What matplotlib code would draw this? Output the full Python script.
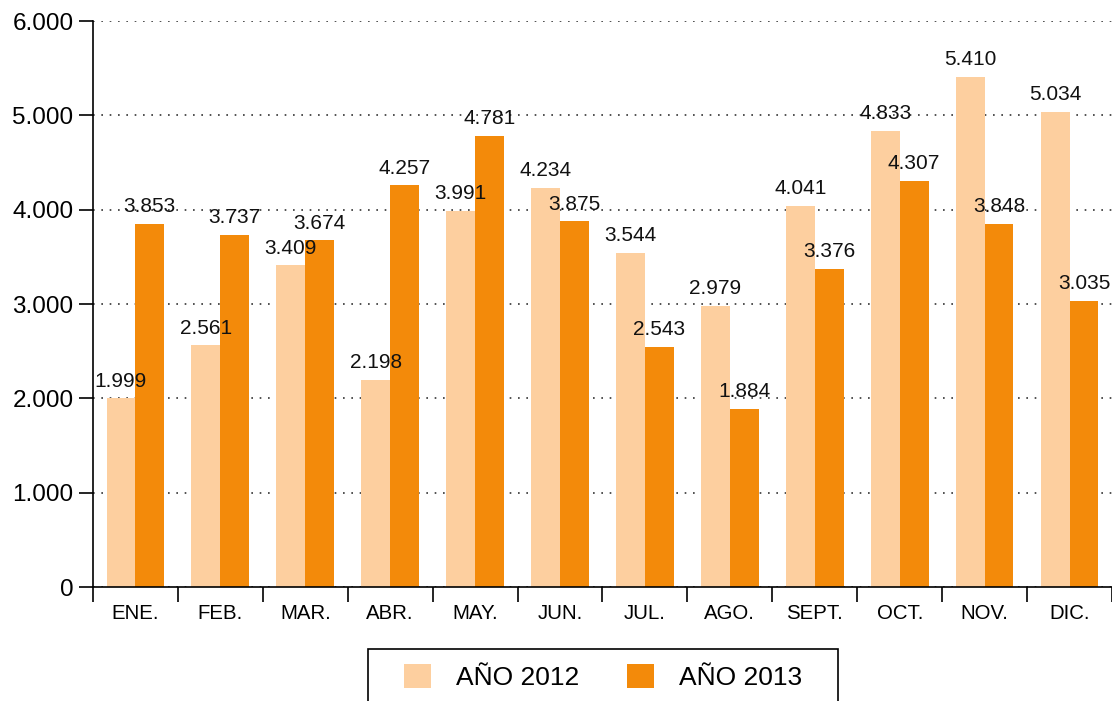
import matplotlib
matplotlib.use("Agg")
import matplotlib.pyplot as plt
import numpy as np
from matplotlib.ticker import FixedLocator, FuncFormatter
from matplotlib.patches import Rectangle

# ============================================================
# DATA
# ============================================================

months = ["ENE.", "FEB.", "MAR.", "ABR.", "MAY.", "JUN.",
          "JUL.", "AGO.", "SEPT.", "OCT.", "NOV.", "DIC."]
year_2012 = [1999, 2561, 3409, 2198, 3991, 4234, 3544, 2979, 4041, 4833, 5410, 5034]
year_2013 = [3853, 3737, 3674, 4257, 4781, 3875, 2543, 1884, 3376, 4307, 3848, 3035]
series_names = ["AÑO 2012", "AÑO 2013"]

light = "#FDCF9F"
dark = "#F38A0A"


def miles(v, pos=None):
    # spanish thousands separator
    return f"{int(v):,}".replace(",", ".")


plt.rcParams["font.family"] = ["Liberation Sans", "DejaVu Sans"]

fig = plt.figure(figsize=(11.12, 7.01), dpi=100)
ax = fig.add_axes([0.0836, 0.1626, 0.9164, 0.8074])

x = np.arange(len(months))
w = 0.34

b1 = ax.bar(x - w / 2, year_2012, w, color=light, label=series_names[0], zorder=2)
b2 = ax.bar(x + w / 2, year_2013, w, color=dark, label=series_names[1], zorder=2)

# value labels above the bars
for bars in (b1, b2):
    for rect in bars:
        h = rect.get_height()
        ax.annotate(miles(h), (rect.get_x() + rect.get_width() / 2, h),
                    xytext=(0, 12.5), textcoords="offset points",
                    ha="center", va="center", fontsize=15, color="#111111", zorder=3)

# ============================================================
# AXES
# ============================================================

ax.set_xlim(-0.5, len(months) - 0.5)
ax.set_ylim(0, 6000)
ax.set_yticks(np.arange(0, 6001, 1000))
ax.yaxis.set_major_formatter(FuncFormatter(miles))

ax.set_xticks(x)
ax.set_xticklabels(months)
ax.xaxis.set_minor_locator(FixedLocator(np.arange(-0.5, len(months), 1.0)))
ax.tick_params(axis="x", which="major", length=0, pad=12, labelsize=14.7)
ax.tick_params(axis="x", which="minor", length=11, width=1.2, direction="out")
ax.tick_params(axis="y", length=10, width=1.2, direction="out", pad=4, labelsize=17.5)

ax.grid(axis="y", color="#333333", linestyle=(0, (1, 4)), linewidth=1.2, zorder=1)
ax.set_axisbelow(True)

for s in ("top", "right"):
    ax.spines[s].set_visible(False)
for s in ("left", "bottom"):
    ax.spines[s].set_linewidth(1.2)
    ax.spines[s].set_zorder(4)

# ============================================================
# LEGEND (frame drawn separately, wider than tall, cut by the bottom edge)
# ============================================================

leg = fig.legend(handles=[b1, b2], loc="upper center", ncol=2,
                 bbox_to_anchor=(0.5423, 1 - 664 / 701),
                 frameon=False, fontsize=19,
                 handlelength=1.02, handleheight=1.02,
                 columnspacing=1.78, handletextpad=0.95,
                 borderpad=0, borderaxespad=0)

fig.canvas.draw()
bb = leg.get_window_extent()
frame = Rectangle((bb.x0 - 36, -40), bb.width + 72, bb.y1 + 15 + 40,
                  transform=None, fill=False, edgecolor="black", linewidth=1.2)
fig.patches.append(frame)

plt.savefig("out.png", dpi=100)
